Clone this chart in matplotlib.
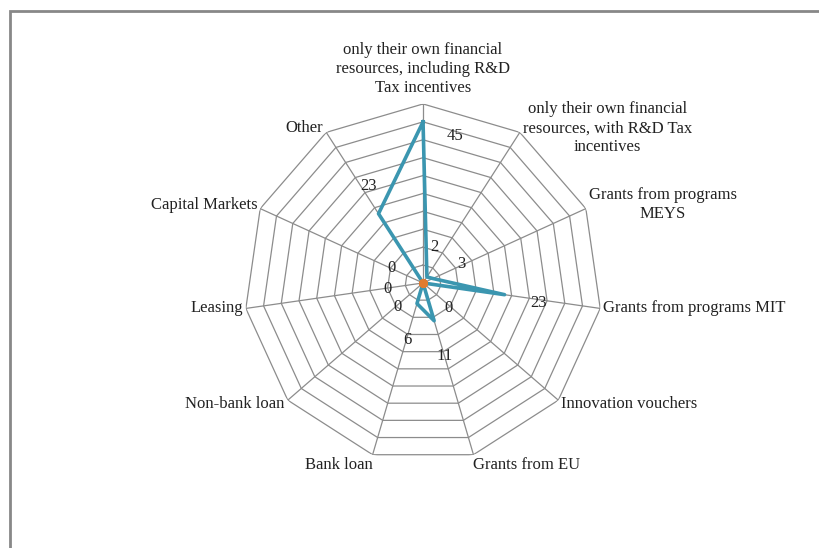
import numpy as np
import matplotlib
matplotlib.use("Agg")
import matplotlib.pyplot as plt
from matplotlib.patches import Rectangle

# Categories, clockwise from the top
categories = [
    "only their own financial\nresources, including R&D\nTax incentives",
    "only their own financial\nresources, with R&D Tax\nincentives",
    "Grants from programs\nMEYS",
    "Grants from programs MIT",
    "Innovation vouchers",
    "Grants from EU",
    "Bank loan",
    "Non-bank loan",
    "Leasing",
    "Capital Markets",
    "Other",
]
counts = [45, 2, 3, 23, 0, 11, 6, 0, 0, 0, 23]
second_series = [0, 0, 0, 0, 0, 0, 0, 0, 0, 0, 0]
ring_values = [5, 10, 15, 20, 25, 30, 35, 40, 45, 50]

# data label offsets in pixels (style only)
label_offsets = [(32, -14), (7, 30), (29, 14), (34, -8), (25, -25), (10, -35),
                 (-10, -36), (-26, -24), (-36, -6), (-32, 15), (-10, 28)]

plt.rcParams["font.family"] = ["Liberation Serif", "DejaVu Serif"]
plt.rcParams["font.size"] = 12

n = len(categories)
angles = np.arange(n) * 2 * np.pi / n

fig = plt.figure(figsize=(8.2, 5.48), dpi=100)
fig.patches.append(Rectangle((10 / 820, -0.1), 1.2, (548 - 11) / 548 + 0.1,
                             transform=fig.transFigure, fill=False,
                             edgecolor="#888888", linewidth=2))

ax = fig.add_axes([0.2976, 0.157, 0.4366, 0.6533], projection="polar")
ax.set_theta_zero_location("N")
ax.set_theta_direction(-1)
ax.set_ylim(0, 50)
ax.grid(False)
ax.spines["polar"].set_visible(False)
ax.set_xticks([])
ax.set_yticks([])
ax.patch.set_alpha(0)

# polygon grid
closed = np.append(angles, angles[0])
for r in ring_values:
    ax.plot(closed, [r] * (n + 1), color="#8c8c8c", linewidth=0.9, zorder=1)
for a in angles:
    ax.plot([a, a], [0, ring_values[-1]], color="#8c8c8c", linewidth=0.9, zorder=1)

# series
vals = np.append(counts, counts[0])
ax.plot(closed, vals, color="#3b96b0", linewidth=2.6, zorder=3)
ax.plot(angles, second_series, linestyle="none", marker="o", markersize=5,
        color="#e07b30", zorder=4)

# data labels
for a, v, off in zip(angles, counts, label_offsets):
    ax.annotate(str(v), xy=(a, v), xytext=off, textcoords="offset pixels",
                ha="center", va="center", fontsize=12, color="#222222")

# category labels
for a, lab in zip(angles, categories):
    s, c = np.sin(a), np.cos(a)
    if abs(s) < 0.1:
        ha = "center"
    elif s > 0:
        ha = "left"
    else:
        ha = "right"
    if c > 0.95:
        va, off = "bottom", (0, 8)
    elif c < -0.9:
        va, off = "top", (0, -2)
    else:
        va, off = "center", (3 * np.sign(s), 4 if c > 0.3 else -4 if c < -0.3 else 0)
    ax.annotate(lab, xy=(a, ring_values[-1]), xytext=off, textcoords="offset pixels",
                ha=ha, va=va, multialignment="center", fontsize=12,
                linespacing=1.25, color="#222222", annotation_clip=False)

fig.savefig("out.png", dpi=100)
